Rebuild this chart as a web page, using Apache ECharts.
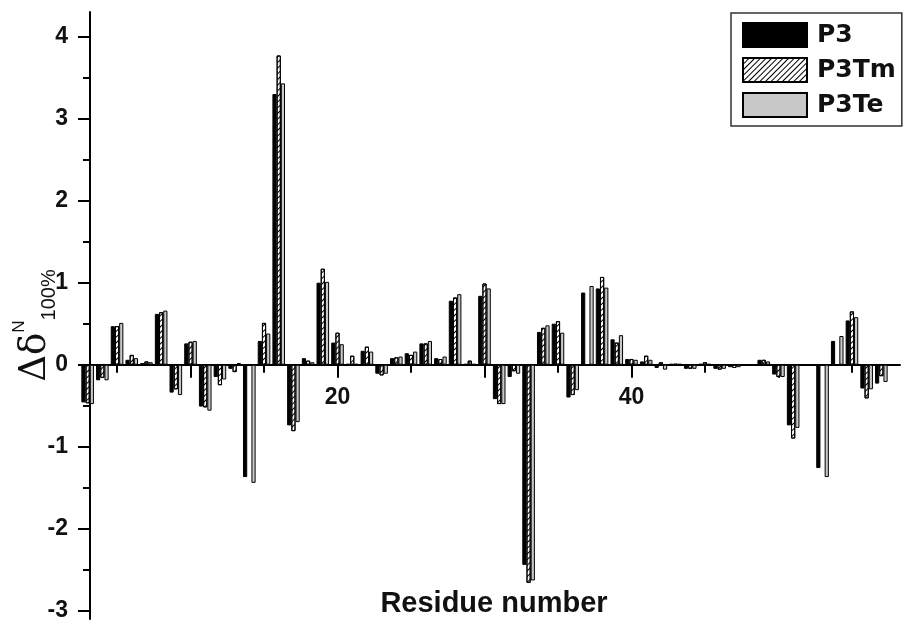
<!DOCTYPE html>
<html>
<head>
<meta charset="utf-8">
<script src="https://cdn.jsdelivr.net/npm/echarts@6/dist/echarts.min.js"></script>
<style>
  html, body { margin: 0; padding: 0; background: #fff; }
  #chart { width: 908px; height: 625px; }
</style>
</head>
<body>
<div id="chart"></div>
<script>
// Chemical shift perturbation per residue for the three peptides
const residues = [3, 4, 5, 6, 7, 8, 9, 10, 11, 12, 13, 14, 15, 16, 17, 18, 19, 20,
  21, 22, 23, 24, 25, 26, 27, 28, 29, 30, 31, 32, 33, 34, 35, 36, 37, 38, 39, 40,
  41, 42, 43, 44, 45, 46, 47, 48, 49, 50, 51, 52, 53, 54, 55, 56, 57];

const p3 = [-0.46, -0.19, 0.47, 0.06, 0.02, 0.62, -0.34, 0.26, -0.51, -0.15, -0.05, -1.37,
  0.29, 3.30, -0.74, 0.08, 1.00, 0.27, 0.01, 0.17, -0.11, 0.08, 0.14, 0.26, 0.08, 0.78,
  0.01, 0.84, -0.42, -0.15, -2.44, 0.40, 0.50, -0.40, 0.88, 0.93, 0.31, 0.07, 0.04, -0.04,
  0.01, -0.05, 0.01, -0.05, -0.03, -0.01, 0.06, -0.12, -0.74, null, -1.26, 0.29, 0.54,
  -0.29, -0.23];

const p3Tm = [-0.47, -0.16, 0.47, 0.12, 0.04, 0.64, -0.30, 0.28, -0.52, -0.25, -0.09, null,
  0.51, 3.77, -0.81, 0.05, 1.17, 0.39, 0.11, 0.22, -0.13, 0.09, 0.12, 0.26, 0.07, 0.82,
  0.05, 0.99, -0.48, -0.08, -2.66, 0.45, 0.53, -0.37, null, 1.07, 0.27, 0.07, 0.11, 0.03,
  0.01, -0.05, 0.03, -0.06, -0.04, -0.01, 0.06, -0.15, -0.90, null, null, null, 0.65,
  -0.41, -0.14];

const p3Te = [-0.48, -0.19, 0.51, 0.08, 0.03, 0.66, -0.37, 0.29, -0.56, -0.18, 0.02, -1.44,
  0.38, 3.43, -0.70, 0.03, 1.01, 0.25, 0.01, 0.16, -0.11, 0.10, 0.16, 0.29, 0.10, 0.86,
  0.01, 0.93, -0.48, -0.11, -2.63, 0.48, 0.39, -0.31, 0.96, 0.94, 0.36, 0.06, 0.06, -0.06,
  0.01, -0.05, 0.01, -0.05, -0.03, -0.01, 0.04, -0.15, -0.77, null, -1.37, 0.35, 0.58,
  -0.30, -0.21];

const seriesNames = ['P3', 'P3Tm', 'P3Te'];

// Axis tick / label positions
const xLabelValues = [20, 40];
const xMajorTicks = [10, 20, 30, 40, 50];
const xMinorTicks = [5, 15, 25, 35, 45, 55];
const yLabelValues = [-3, -2, -1, 0, 1, 2, 3, 4];
const yMinorTicks = [-2.5, -1.5, -0.5, 0.5, 1.5, 2.5, 3.5];

const X_MIN = 3.16, X_MAX = 58.27;
const Y_MIN = -3.10, Y_MAX = 4.30;

const FONT = '"Liberation Sans", Arial, sans-serif';
const LEGEND_FONT = '"DejaVu Sans", "Liberation Sans", sans-serif';

// Plot area; the residue axis is lifted from the grid bottom to the zero line
const W = 908, H = 625;
const GRID = { left: 90, right: 8, top: 12, bottom: 6 };
const plotH = H - GRID.top - GRID.bottom;
const zeroY = GRID.top + (Y_MAX / (Y_MAX - Y_MIN)) * plotH;
const xAxisOffset = zeroY - (H - GRID.bottom);

function pairs(values) {
  return residues.map((r, i) => [r, values[i]]);
}

const barBase = {
  type: 'bar',
  barWidth: 4.2,
  barGap: '0%',
  xAxisIndex: 0,
  yAxisIndex: 0,
  clip: true,
  emphasis: { disabled: true }
};

const chart = echarts.init(document.getElementById('chart'), null, { renderer: 'canvas' });

chart.setOption({
  animation: false,
  backgroundColor: '#fff',
  grid: Object.assign({ containLabel: false, outerBoundsMode: 'none' }, GRID),
  legend: {
    orient: 'vertical',
    left: 731,
    top: 13,
    padding: [9, 6, 8, 11],
    borderColor: '#333',
    borderWidth: 1.5,
    itemWidth: 64,
    itemHeight: 24,
    itemGap: 9,
    icon: 'rect',
    selectedMode: false,
    itemStyle: { borderColor: '#000', borderWidth: 2 },
    textStyle: { fontSize: 25, fontWeight: 'bold', color: '#111', fontFamily: LEGEND_FONT, padding: [0, 0, 0, 5] },
    data: seriesNames
  },
  xAxis: [
    {
      type: 'value', min: X_MIN, max: X_MAX, position: 'bottom', offset: xAxisOffset,
      axisLine: { show: true, onZero: false, lineStyle: { color: '#000', width: 2 } },
      splitLine: { show: false },
      axisTick: { show: true, customValues: xMajorTicks, length: 13, lineStyle: { color: '#000', width: 2 } },
      axisLabel: { show: true, customValues: xLabelValues, margin: 21, fontSize: 23, fontWeight: 'bold', color: '#111', fontFamily: FONT }
    },
    {
      type: 'value', min: X_MIN, max: X_MAX, position: 'bottom', offset: xAxisOffset,
      axisLine: { show: false, onZero: false },
      splitLine: { show: false },
      axisTick: { show: true, customValues: xMinorTicks, length: 8, lineStyle: { color: '#000', width: 2 } },
      axisLabel: { show: false }
    }
  ],
  yAxis: [
    {
      type: 'value', min: Y_MIN, max: Y_MAX, position: 'left',
      axisLine: { show: true, onZero: false, lineStyle: { color: '#000', width: 2 } },
      splitLine: { show: false },
      axisTick: { show: true, customValues: yLabelValues, length: 12, lineStyle: { color: '#000', width: 2 } },
      axisLabel: { show: true, customValues: yLabelValues, margin: 22, fontSize: 23, fontWeight: 'bold', color: '#111', fontFamily: FONT },
      name: '{a|Δδ}{b|N}{c|100%}',
      nameLocation: 'middle',
      nameRotate: 90,
      nameGap: 31,
      nameMoveOverlap: false,
      nameTextStyle: {
        color: '#111',
        padding: [0, 20, 0, 0],
        rich: {
          a: { fontSize: 37, lineHeight: 48, fontFamily: '"DejaVu Serif", "Liberation Serif", serif', color: '#111' },
          b: { fontSize: 17, lineHeight: 17, verticalAlign: 'top', fontFamily: FONT, color: '#111' },
          c: { fontSize: 20, lineHeight: 20, verticalAlign: 'bottom', fontFamily: FONT, color: '#111' }
        }
      }
    },
    {
      type: 'value', min: Y_MIN, max: Y_MAX, position: 'left',
      axisLine: { show: false, onZero: false },
      splitLine: { show: false },
      axisTick: { show: true, customValues: yMinorTicks, length: 7, lineStyle: { color: '#000', width: 2 } },
      axisLabel: { show: false }
    }
  ],
  graphic: [
    {
      type: 'text',
      x: 494,
      y: 604,
      style: {
        text: 'Residue number',
        fontSize: 29,
        fontWeight: 'bold',
        fontFamily: FONT,
        fill: '#111',
        align: 'center',
        verticalAlign: 'middle'
      }
    }
  ],
  series: [
    Object.assign({}, barBase, {
      name: seriesNames[0],
      data: pairs(p3),
      itemStyle: { color: '#000', borderColor: '#000', borderWidth: 1 }
    }),
    Object.assign({}, barBase, {
      name: seriesNames[1],
      data: pairs(p3Tm),
      itemStyle: {
        color: '#fff', borderColor: '#000', borderWidth: 1,
        decal: {
          symbol: 'rect', symbolSize: 1, color: '#000',
          dashArrayX: [1, 0], dashArrayY: [1, 3], rotation: -Math.PI / 4
        }
      }
    }),
    Object.assign({}, barBase, {
      name: seriesNames[2],
      data: pairs(p3Te),
      itemStyle: { color: '#c8c8c8', borderColor: '#000', borderWidth: 1 }
    })
  ]
});
</script>
</body>
</html>
